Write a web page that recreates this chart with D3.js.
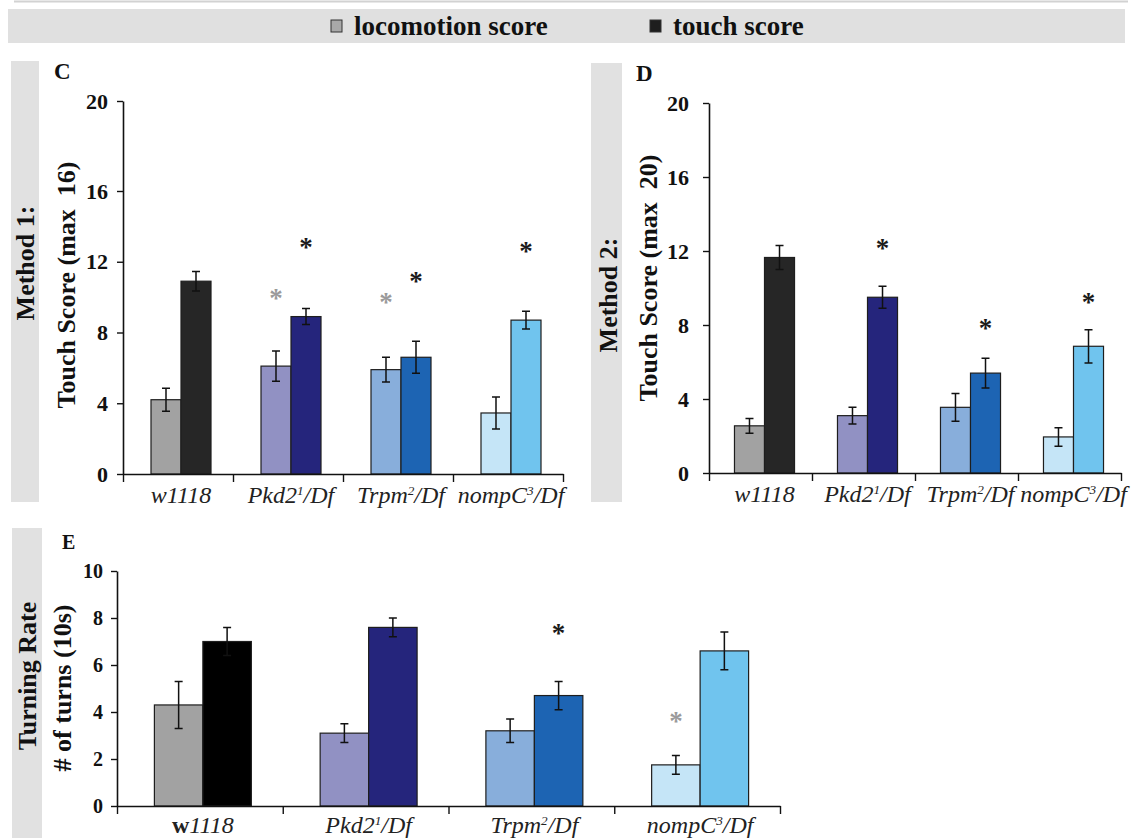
<!DOCTYPE html>
<html>
<head>
<meta charset="utf-8">
<script src="https://cdn.jsdelivr.net/npm/d3@7"></script>
<style>
  body { margin: 0; background: #fff; }
  text { font-family: "Liberation Serif", "Times New Roman", serif; }
</style>
</head>
<body>
<svg id="chart"></svg>
<script>
// genotypes on the x axis
const groups = ['w1118', 'Pkd2', 'Trpm', 'nompC'];
const labelBase = ['w1118', 'Pkd2', 'Trpm', 'nompC'];
const labelSup = ['', '1', '2', '3'];
const labelTail = ['', '/Df', '/Df', '/Df'];
const series = ['loco', 'touch'];
const legendLabels = ['locomotion score', 'touch score'];

const locoColors = ['#a2a2a2', '#9191c3', '#88aedb', '#c5e5f7'];
const touchColors = ['#262626', '#25257c', '#1d64b3', '#70c4ee'];
const touchColorsE = ['#000000', '#25257c', '#1d64b3', '#70c4ee'];

// C: method 1 (max 16)
const m1Loco = [4.2, 6.1, 5.9, 3.45];
const m1LocoErr = [0.65, 0.85, 0.7, 0.9];
const m1Touch = [10.9, 8.9, 6.6, 8.7];
const m1TouchErr = [0.55, 0.45, 0.9, 0.5];
const m1Stars = [['Pkd2', 'loco', 10.1], ['Pkd2', 'touch', 13.0], ['Trpm', 'loco', 9.9], ['Trpm', 'touch', 11.1], ['nompC', 'touch', 12.8]];

// D: method 2 (max 20)
const m2Loco = [2.55, 3.1, 3.55, 1.95];
const m2LocoErr = [0.4, 0.45, 0.75, 0.5];
const m2Touch = [11.65, 9.5, 5.4, 6.85];
const m2TouchErr = [0.65, 0.6, 0.8, 0.9];
const m2Stars = [['Pkd2', 'touch', 12.35], ['Trpm', 'touch', 8.0], ['nompC', 'touch', 9.4]];

// E: turning rate
const turnLoco = [4.3, 3.1, 3.2, 1.75];
const turnLocoErr = [1.0, 0.4, 0.5, 0.4];
const turnTouch = [7.0, 7.6, 4.7, 6.6];
const turnTouchErr = [0.6, 0.4, 0.6, 0.8];
const turnStars = [['Trpm', 'touch', 7.5], ['nompC', 'loco', 3.75]];

const touchTicks = [0, 4, 8, 12, 16, 20];
const turnTicks = [0, 2, 4, 6, 8, 10];

const width = 1142, height = 838;
const svg = d3.select('#chart').attr('width', width).attr('height', height);

// top rule + legend strip
svg.append('line').attr('x1', 14).attr('x2', 1128).attr('y1', 1.5).attr('y2', 1.5)
    .attr('stroke', '#d2d2d2').attr('stroke-width', 2);
svg.append('rect').attr('x', 8).attr('y', 9).attr('width', 1117).attr('height', 34).attr('fill', '#e0e0e0');
const legX = [331, 650];
const legFill = ['#a9a9a9', '#1e1e1e'];
legendLabels.forEach((lab, i) => {
    svg.append('rect').attr('x', legX[i]).attr('y', 20).attr('width', 11).attr('height', 12)
        .attr('fill', legFill[i]).attr('stroke', '#333').attr('stroke-width', 1);
    svg.append('text').attr('x', legX[i] + 23).attr('y', 35).attr('font-size', 27)
        .attr('font-weight', 'bold').attr('fill', '#111').text(lab);
});

function vText(x, y, txt, size) {
    svg.append('text').attr('transform', `translate(${x},${y}) rotate(-90)`)
        .attr('text-anchor', 'middle').attr('dy', '0.35em')
        .attr('font-size', size).attr('font-weight', 'bold').attr('fill', '#111')
        .text(txt);
}

function drawPanel(o) {
    const g = svg.append('g');
    // grey side strip with method name
    g.append('rect').attr('x', o.strip[0]).attr('y', o.strip[1]).attr('width', o.strip[2]).attr('height', o.strip[3])
        .attr('fill', '#e1e1e1');
    vText(o.stripText[0], o.stripText[1], o.stripLabel, 26);
    vText(o.yLabelPos[0], o.yLabelPos[1], o.yLabel, 26);
    g.append('text').attr('x', o.letter[0]).attr('y', o.letter[1]).attr('font-size', o.letter[2])
        .attr('font-weight', 'bold').attr('fill', '#111').text(o.letter[3]);

    const y = o.y;
    const x = d3.scaleBand().domain(groups).range([o.x0, o.x1])
        .paddingInner(o.pad).paddingOuter(o.pad / 2);
    const xs = d3.scaleBand().domain(series).range([0, x.bandwidth()]);
    const rows = groups.flatMap((grp, i) => [
        {grp, s: 'loco', v: o.loco[i], e: o.locoErr[i], c: locoColors[i]},
        {grp, s: 'touch', v: o.touch[i], e: o.touchErr[i], c: o.touchColors[i]}
    ]);
    const cx = (grp, s) => x(grp) + xs(s) + xs.bandwidth() / 2 + o.shift;

    g.selectAll('rect.bar').data(rows).join('rect')
        .attr('class', 'bar')
        .attr('x', d => x(d.grp) + xs(d.s) + o.shift)
        .attr('y', d => y(d.v))
        .attr('width', xs.bandwidth())
        .attr('height', d => y(0) - y(d.v))
        .attr('fill', d => d.c)
        .attr('stroke', '#1e1e1e').attr('stroke-width', 1.2);

    g.selectAll('path.err').data(rows).join('path')
        .attr('class', 'err')
        .attr('d', d => {
            const c = cx(d.grp, d.s), t = y(d.v + d.e), b = y(d.v - d.e);
            return `M${c - 4},${t}h8M${c},${t}V${b}M${c - 4},${b}h8`;
        })
        .attr('stroke', '#111').attr('stroke-width', 1.5).attr('fill', 'none');

    g.selectAll('text.star').data(o.stars).join('text')
        .attr('class', 'star')
        .attr('x', d => cx(d[0], d[1]))
        .attr('y', d => y(d[2]) + 12)
        .attr('text-anchor', 'middle').attr('font-size', 27).attr('font-weight', 'bold')
        .attr('fill', d => d[1] === 'loco' ? '#9a9a9a' : '#1a1a1a')
        .text('*');

    // axes
    const yAxis = d3.axisLeft(y).tickValues(o.ticks).tickSize(6).tickPadding(o.tickPad).tickSizeOuter(0);
    const yg = g.append('g').attr('transform', `translate(${o.x0},0)`).call(yAxis);
    yg.attr('font-family', null).attr('font-size', o.tickSize);
    yg.selectAll('text').attr('font-weight', 'bold').attr('fill', '#111');

    const xb = d3.scaleLinear().domain([0, groups.length]).range([o.x0, o.x1]);
    const xg = g.append('g').attr('transform', `translate(0,${y(0)})`)
        .call(d3.axisBottom(xb).tickValues(d3.range(groups.length + 1)).tickFormat('').tickSize(8).tickSizeOuter(0));

    [yg, xg].forEach(a => {
        a.select('.domain').attr('stroke', '#111').attr('stroke-width', 1.6);
        a.selectAll('.tick line').attr('stroke', '#111').attr('stroke-width', 1.4);
    });

    groups.forEach((grp, i) => {
        const t = g.append('text').attr('x', x(grp) + x.bandwidth() / 2 + o.shift).attr('y', o.labelY)
            .attr('text-anchor', 'middle').attr('font-size', o.labelSize)
            .attr('font-style', 'italic').attr('fill', '#222');
        if (o.boldW && i === 0) {
            t.append('tspan').attr('font-style', 'normal').attr('font-weight', 'bold').text(labelBase[i].slice(0, 1));
            t.append('tspan').text(labelBase[i].slice(1));
        } else {
            t.append('tspan').text(labelBase[i]);
        }
        if (labelSup[i]) {
            t.append('tspan').attr('font-size', o.labelSize * 0.55).attr('dy', -o.labelSize * 0.35).text(labelSup[i]);
            t.append('tspan').attr('dy', o.labelSize * 0.35).text(labelTail[i]);
        }
    });
}

drawPanel({
    strip: [11, 61, 28, 441], stripText: [25, 263], stripLabel: 'Method 1:',
    yLabel: 'Touch Score (max\u00a0\u00a016)', yLabelPos: [66, 285],
    letter: [54, 79, 23, 'C'],
    y: d3.scaleLinear().domain([0, 16, 20]).range([474, 191, 101]),
    x0: 123, x1: 563, pad: 0.4545, shift: 3,
    loco: m1Loco, locoErr: m1LocoErr, touch: m1Touch, touchErr: m1TouchErr,
    touchColors: touchColors, stars: m1Stars,
    ticks: touchTicks, tickPad: 9, tickSize: 22,
    labelY: 503, labelSize: 24, boldW: false
});

drawPanel({
    strip: [591, 63, 31, 439], stripText: [608, 295], stripLabel: 'Method 2:',
    yLabel: 'Touch Score (max\u00a0\u00a020)', yLabelPos: [648, 278],
    letter: [636, 81, 23, 'D'],
    y: d3.scaleLinear().domain([0, 20]).range([473, 103]),
    x0: 709, x1: 1121, pad: 0.417, shift: 4,
    loco: m2Loco, locoErr: m2LocoErr, touch: m2Touch, touchErr: m2TouchErr,
    touchColors: touchColors, stars: m2Stars,
    ticks: touchTicks, tickPad: 14, tickSize: 22,
    labelY: 502, labelSize: 24, boldW: false
});

drawPanel({
    strip: [12, 528, 30, 310], stripText: [27, 676], stripLabel: 'Turning Rate',
    yLabel: '# of turns (10s)', yLabelPos: [62, 688],
    letter: [62, 549, 20, 'E'],
    y: d3.scaleLinear().domain([0, 10]).range([806, 571]),
    x0: 117, x1: 780, pad: 0.415, shift: 3,
    loco: turnLoco, locoErr: turnLocoErr, touch: turnTouch, touchErr: turnTouchErr,
    touchColors: touchColorsE, stars: turnStars,
    ticks: turnTicks, tickPad: 8, tickSize: 20,
    labelY: 833, labelSize: 24, boldW: true
});
</script>
</body>
</html>
